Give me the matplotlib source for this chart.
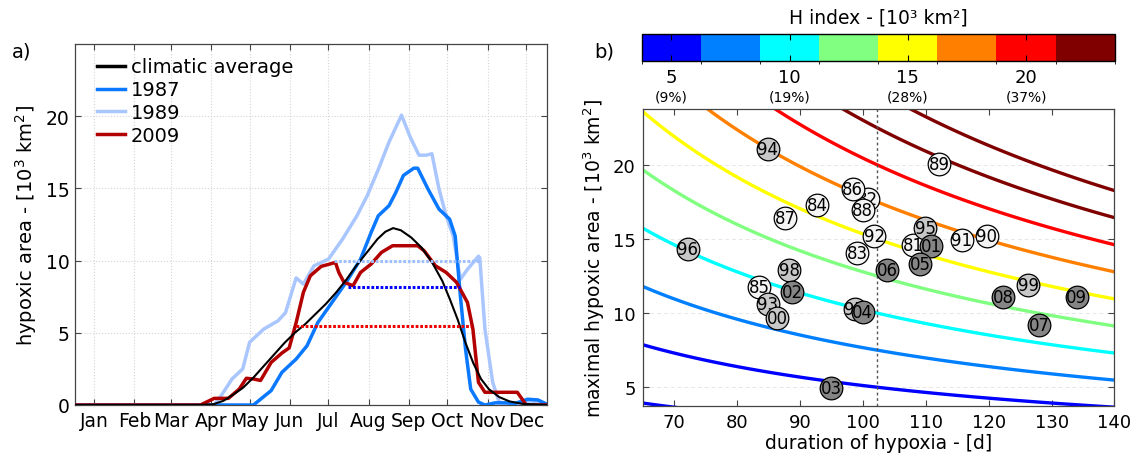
import numpy as np
import matplotlib
matplotlib.use("Agg")
import matplotlib.pyplot as plt
from matplotlib.colors import ListedColormap, BoundaryNorm
import matplotlib.colorbar as mcolorbar

plt.rcParams['font.family'] = ['DejaVu Sans']
plt.rcParams['mathtext.default'] = 'regular'

# ---------------- data: panel a ----------------
months = ['Jan', 'Feb', 'Mar', 'Apr', 'May', 'Jun', 'Jul', 'Aug', 'Sep', 'Oct', 'Nov', 'Dec']
month_days = [15, 46, 74, 105, 135, 166, 196, 227, 258, 288, 319, 349]

clim_day = [0, 95, 107, 115, 122, 130, 138, 146, 154, 162, 170, 178, 186, 194, 202, 210,
            218, 226, 234, 240, 246, 252, 260, 268, 276, 284, 290, 296, 302, 308, 314,
            320, 328, 336, 346, 365]
clim_val = [0, 0, 0.05, 0.3, 0.7, 1.2, 1.9, 2.7, 3.5, 4.3, 5.0, 5.6, 6.3, 7.0, 7.8, 8.7,
            9.7, 10.6, 11.5, 12.0, 12.25, 12.1, 11.6, 10.9, 9.9, 8.6, 7.3, 5.9, 4.3, 2.9, 1.8,
            1.1, 0.55, 0.25, 0.08, 0]

y1987_day = [0, 138, 151.7, 160, 171, 179.4, 187.7, 198.7, 209.7, 220.8, 229, 234.5, 242.8,
             248, 254, 262, 265, 273, 281.5, 289.7, 294, 298, 302, 306, 312, 317, 325, 333,
             340, 350, 358, 365]
y1987_val = [0, 0, 1.0, 2.26, 3.18, 4.1, 5.7, 7.1, 8.5, 10.1, 11.95, 13.1, 13.8,
             14.7, 15.9, 16.4, 16.4, 14.95, 13.56, 12.87, 11.7, 7.56, 3.87, 1.1, 0.2, 0.0, 0.15, 0.15,
             0.1, 0.4, 0.35, 0.05]

y1989_day = [0, 107.6, 113, 121.4, 129.7, 135, 146, 157, 162.8, 171, 176.6, 184.8, 196, 207,
             218, 226, 234.5, 242.8, 252.5, 259, 266, 271.6, 276, 281.5, 287, 292.5, 298,
             303.5, 312, 313, 317, 323, 328, 335, 345, 352, 365]
y1989_val = [0, 0, 0.64, 1.8, 2.5, 4.34, 5.26, 5.83, 6.4, 8.8, 8.37, 9.64, 10.1, 11.5,
             13.1, 14.5, 16.3, 18.2, 20.07, 18.6, 17.3, 17.3, 17.4, 14.95, 13.1, 11.7, 8.7,
             9.4, 10.3, 10.2, 5.26, 1.57, 0.2, 0.05, 0.1, 0.3, 0.05]

y2009_day = [0, 97, 107.6, 118.6, 127, 132.5, 138, 143.5, 151.7, 160, 165.6, 171, 176.6,
             182, 190.4, 201.4, 204, 208, 215, 220.8, 229, 237, 245.6, 265, 270, 278.7, 287,
             295, 303.5, 307.7, 312, 317, 342, 349, 365]
y2009_val = [0, 0, 0.46, 0.46, 1.1, 1.85, 1.8, 1.7, 2.95, 3.6, 3.95, 5.7, 7.8,
             8.95, 9.6, 9.87, 9.18, 8.5, 8.26, 9.18, 9.76, 10.57, 11.03, 11.03, 10.68, 9.64, 9.18,
             8.5, 7.1, 5.26, 1.57, 0.88, 0.88, 0, 0]

# duration above threshold (start day, end day, level)
thr1989 = (200, 313, 10.0)
thr1987 = (211, 298, 8.2)
thr2009 = (171, 306, 5.5)

# ---------------- data: panel b ----------------
years = ['81', '82', '83', '84', '85', '86', '87', '88', '89', '90', '91', '92', '93', '94',
         '95', '96', '97', '98', '99', '00', '01', '02', '03', '04', '05', '06', '07', '08', '09']
duration = [108.0, 100.8, 99.1, 92.7, 83.5, 98.4, 87.7, 100.0, 112.1, 119.7, 115.7, 101.8,
            84.9, 84.9, 109.9, 72.2, 98.7, 88.3, 126.3, 86.4, 110.9, 88.8, 95.0, 100.0,
            109.1, 103.9, 128.0, 122.3, 134.0]
max_area = [14.55, 17.70, 14.03, 17.25, 11.74, 18.33, 16.42, 16.91, 20.04, 15.22, 14.89, 15.18,
            10.61, 21.08, 15.74, 14.32, 10.27, 12.93, 11.91, 9.64, 14.51, 11.40, 4.91, 10.05,
            13.31, 12.93, 9.19, 11.06, 11.06]

clim_duration = 102.2
h_levels = [2.5, 5, 7.5, 10, 12.5, 15, 17.5, 20, 22.5, 25]
cbar_bounds = [3.75, 6.25, 8.75, 11.25, 13.75, 16.25, 18.75, 21.25, 23.75]
cbar_colors = ['#0000ff', '#0080ff', '#00ffff', '#80ff80', '#ffff00', '#ff8000', '#ff0000', '#800000']
cbar_ticks = [5, 10, 15, 20]
cbar_pct = ['(9%)', '(19%)', '(28%)', '(37%)']

# ---------------- figure ----------------
W, H = 1137, 464
fig = plt.figure(figsize=(W / 100, H / 100), dpi=100)

def box(l, t, r, b):
    return [l / W, 1 - b / H, (r - l) / W, (b - t) / H]

frame_col = '#444444'

# ---- panel a ----
ax1 = fig.add_axes(box(75, 45, 547, 406))
c87 = '#0a78ff'
c89 = '#a9c6ff'
c09 = '#b30000'
ax1.plot(y1989_day, y1989_val, color=c89, lw=2.5, zorder=3, solid_joinstyle='round')
ax1.plot(y1987_day, y1987_val, color=c87, lw=2.5, zorder=4, solid_joinstyle='round')
ax1.plot(y2009_day, y2009_val, color=c09, lw=2.5, zorder=5, solid_joinstyle='round')
ax1.plot(clim_day, clim_val, color='k', lw=1.5, zorder=6, solid_joinstyle='round')
dots = (0, (0.9, 0.6))
ax1.plot(thr1989[:2], [thr1989[2]] * 2, color='#9fc0ff', lw=2.2, ls=dots, zorder=7)
ax1.plot(thr1987[:2], [thr1987[2]] * 2, color='#0000ff', lw=2.2, ls=dots, zorder=7)
ax1.plot(thr2009[:2], [thr2009[2]] * 2, color='#ee0000', lw=2.2, ls=dots, zorder=7)

# legend proxies
lh = [plt.Line2D([], [], color='k', lw=2.5), plt.Line2D([], [], color=c87, lw=2.5),
      plt.Line2D([], [], color=c89, lw=2.5), plt.Line2D([], [], color=c09, lw=2.5)]
ax1.legend(lh, ['climatic average', '1987', '1989', '2009'], loc='upper left',
           bbox_to_anchor=(0.022, 0.995), frameon=False, fontsize=14, handlelength=1.45,
           handletextpad=0.3, labelspacing=0.2, borderaxespad=0.2)

ax1.set_xlim(0, 365)
ax1.set_ylim(0, 25)
ax1.set_xticks(month_days)
ax1.set_xticklabels(months)
ax1.set_yticks([0, 5, 10, 15, 20])
ax1.grid(True, color='#d5d5d5', ls=':', lw=0.8)
ax1.tick_params(direction='in', top=True, right=True, length=4, labelsize=13.5, pad=4,
                color=frame_col)
for s in ax1.spines.values():
    s.set_color(frame_col)
    s.set_linewidth(0.9)
ax1.set_ylabel('hypoxic area - [10$^3$ km$^2$]', fontsize=14, labelpad=5)

# ---- panel b ----
ax2 = fig.add_axes(box(642.7, 110, 1114.5, 406.7))
D = np.linspace(65, 140, 400)
A = np.linspace(3.0, 24.5, 400)
DD, AA = np.meshgrid(D, A)
HH = AA * DD / clim_duration
lev_colors = []
for lev in h_levels:
    k = int(np.clip(np.floor((lev - cbar_bounds[0]) / 2.5), 0, 7))
    lev_colors.append(cbar_colors[k])
ax2.contour(DD, AA, HH, levels=h_levels, colors=lev_colors, linewidths=2.4, zorder=2)
ax2.axvline(clim_duration, color='#555555', lw=1.0, ls=(0, (2, 2)), zorder=3)

for i, (yr, d, a) in enumerate(zip(years, duration, max_area)):
    y = int(yr)
    y = y + 1900 if y > 50 else y + 2000
    if y <= 1992:
        fc = '#f4f4f4'
    elif y <= 2000:
        fc = '#c8c8c8'
    else:
        fc = '#858585'
    ax2.plot(d, a, 'o', ms=16.3, mfc=fc, mec='k', mew=0.9, zorder=10 + 2 * i)
    ax2.text(d, a, yr, ha='center', va='center', fontsize=12, color='k',
             zorder=11 + 2 * i)

ax2.set_xlim(65, 140)
ax2.set_ylim(cbar_bounds[0], cbar_bounds[-1])
ax2.set_xticks([70, 80, 90, 100, 110, 120, 130, 140])
ax2.set_yticks([5, 10, 15, 20])
ax2.grid(True, axis='y', color='#e6e6e6', ls=(0, (4, 3)), lw=0.7)
ax2.tick_params(direction='in', top=True, right=True, length=4, labelsize=13, pad=5,
                color=frame_col)
for s in ax2.spines.values():
    s.set_color(frame_col)
    s.set_linewidth(0.9)
ax2.set_xlabel('duration of hypoxia - [d]', fontsize=13.5, labelpad=2)
ax2.set_ylabel('maximal hypoxic area - [10$^3$ km$^2$]', fontsize=13.5, labelpad=4)

# ---- colorbar ----
cax = fig.add_axes(box(641.8, 35, 1114.7, 62))
cmap = ListedColormap(cbar_colors)
norm = BoundaryNorm(cbar_bounds, cmap.N)
cb = mcolorbar.ColorbarBase(cax, cmap=cmap, norm=norm, orientation='horizontal',
                            ticks=cbar_ticks)
cb.outline.set_linewidth(1.0)
cb.outline.set_edgecolor('k')
cax.tick_params(direction='in', top=True, bottom=True, length=4, labelsize=13, pad=5,
                color='k')
cax.set_xticklabels([str(t) for t in cbar_ticks])
cax.set_title('H index - [10³ km²]', fontsize=13.5, pad=8)
for t, p in zip(cbar_ticks, cbar_pct):
    cax.text(t, -1.3, p, transform=cax.get_xaxis_transform(), ha='center', va='center',
             fontsize=10)

fig.text(22 / W, 1 - 52 / H, 'a)', fontsize=14, ha='center', va='center')
fig.text(604 / W, 1 - 52 / H, 'b)', fontsize=14, ha='center', va='center')

fig.savefig('out.png', dpi=100)
